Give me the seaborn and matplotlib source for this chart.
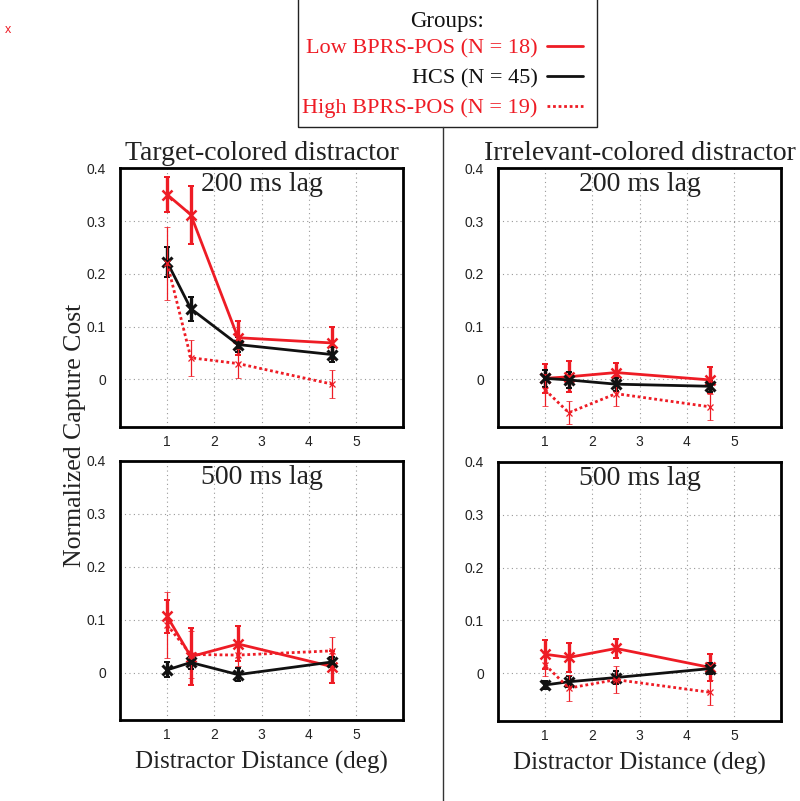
import numpy as np
import pandas as pd
import seaborn as sns
import matplotlib.pyplot as plt
from matplotlib.lines import Line2D
from matplotlib.patches import Rectangle

sns.set_style("white")
plt.rcParams['font.family'] = ['Liberation Sans', 'DejaVu Sans']

# distractor distances (deg)
dist = [1, 1.5, 2.5, 4.5]
groups = ['Low BPRS-POS (N = 18)', 'HCS (N = 45)', 'High BPRS-POS (N = 19)']

# target-colored, 200 ms lag
tc200_low = [0.350, 0.312, 0.079, 0.069]
tc200_low_err = [0.033, 0.055, 0.032, 0.030]
tc200_hcs = [0.222, 0.134, 0.066, 0.047]
tc200_hcs_err = [0.028, 0.023, 0.015, 0.014]
tc200_high = [0.220, 0.041, 0.030, -0.009]
tc200_high_err = [0.069, 0.034, 0.028, 0.027]

# irrelevant-colored, 200 ms lag
ic200_low = [0.002, 0.005, 0.013, -0.001]
ic200_low_err = [0.028, 0.029, 0.019, 0.024]
ic200_hcs = [0.002, -0.001, -0.009, -0.013]
ic200_hcs_err = [0.016, 0.015, 0.012, 0.010]
ic200_high = [-0.020, -0.063, -0.027, -0.052]
ic200_high_err = [0.031, 0.022, 0.023, 0.025]

# target-colored, 500 ms lag
tc500_low = [0.106, 0.030, 0.054, 0.011]
tc500_low_err = [0.031, 0.054, 0.033, 0.030]
tc500_hcs = [0.005, 0.019, -0.004, 0.020]
tc500_hcs_err = [0.014, 0.012, 0.012, 0.010]
tc500_high = [0.090, 0.034, 0.033, 0.041]
tc500_high_err = [0.063, 0.045, 0.020, 0.027]

# irrelevant-colored, 500 ms lag
ic500_low = [0.036, 0.030, 0.047, 0.011]
ic500_low_err = [0.027, 0.027, 0.018, 0.025]
ic500_hcs = [-0.022, -0.016, -0.008, 0.009]
ic500_hcs_err = [0.008, 0.010, 0.012, 0.010]
ic500_high = [0.016, -0.028, -0.012, -0.036]
ic500_high_err = [0.022, 0.025, 0.025, 0.024]

panels = [
    ('Target-colored distractor', '200 ms lag',
     [tc200_low, tc200_hcs, tc200_high], [tc200_low_err, tc200_hcs_err, tc200_high_err]),
    ('Irrelevant-colored distractor', '200 ms lag',
     [ic200_low, ic200_hcs, ic200_high], [ic200_low_err, ic200_hcs_err, ic200_high_err]),
    (None, '500 ms lag',
     [tc500_low, tc500_hcs, tc500_high], [tc500_low_err, tc500_hcs_err, tc500_high_err]),
    (None, '500 ms lag',
     [ic500_low, ic500_hcs, ic500_high], [ic500_low_err, ic500_hcs_err, ic500_high_err]),
]

red = '#ee1c25'
colors = {groups[0]: red, groups[1]: '#111111', groups[2]: red}
dashes = {groups[0]: '', groups[1]: '', groups[2]: (1, 1)}
err_lw = [2.4, 2.4, 0.9]
mk_size = [6.5, 6.5, 5]
mk_mew = [1.8, 2.2, 0.9]

fig = plt.figure(figsize=(8, 8.01), dpi=100)
rects = [[0.15, 0.467, 0.354, 0.323], [0.6225, 0.467, 0.354, 0.323],
         [0.15, 0.101, 0.354, 0.3235], [0.6225, 0.100, 0.354, 0.3235]]

serif = 'Liberation Serif'
for rect, (title, lag, vals, errs) in zip(rects, panels):
    ax = fig.add_axes(rect)
    df = pd.DataFrame({
        'dist': np.tile(dist, 3),
        'cost': np.concatenate(vals),
        'group': np.repeat(groups, len(dist)),
    })
    # error bars first so lines sit on top
    for g, v, e, lw in zip(groups, vals, errs, err_lw):
        ax.errorbar(dist, v, yerr=e, fmt='none', ecolor=colors[g],
                    elinewidth=lw, capsize=2.2, capthick=lw * 0.6, zorder=2)
    sns.lineplot(data=df, x='dist', y='cost', hue='group', style='group',
                 hue_order=groups, style_order=groups,
                 palette=colors, dashes=dashes, markers={g: 'x' for g in groups},
                 linewidth=2.0, legend=False, ax=ax, zorder=3)
    xlines = [ln for ln in ax.lines if ln.get_marker() == 'x']
    for ln, ms, mew in zip(xlines, mk_size, mk_mew):
        ln.set_markeredgecolor(ln.get_color())
        ln.set_markersize(ms)
        ln.set_markeredgewidth(mew)
    ax.set_xlim(0, 6)
    ax.set_ylim(-0.09, 0.4)
    ax.set_xticks([1, 2, 3, 4, 5])
    ax.set_yticks([0, 0.1, 0.2, 0.3, 0.4])
    ax.set_yticklabels(['0', '0.1', '0.2', '0.3', '0.4'])
    ax.grid(True, linestyle=(0, (1, 3)), color='#999999', linewidth=0.8)
    ax.set_axisbelow(True)
    for s in ax.spines.values():
        s.set_linewidth(2.0)
        s.set_color('black')
    ax.tick_params(labelsize=10, length=0, colors='#222222')
    ax.tick_params(axis='x', pad=6)
    ax.tick_params(axis='y', pad=10)
    ax.set_xlabel('')
    ax.set_ylabel('')
    if title:
        ax.set_title(title, family=serif, fontsize=20, pad=6, color='#222222')
    else:
        ax.set_xlabel('Distractor Distance (deg)', family=serif, fontsize=18,
                      color='#222222', labelpad=6)
    ax.text(0.5, 0.985, lag, transform=ax.transAxes, ha='center', va='top',
            family=serif, fontsize=20, color='#222222')

fig.text(0.094, 0.456, 'Normalized Capture Cost', rotation=90, ha='center',
         va='center', family=serif, fontsize=18.5, color='#222222')

# legend box drawn by hand, "Groups:" centred, entries right-aligned
fig.add_artist(Rectangle((298 / 800, 1 - 127 / 801), 299 / 800, 127 / 801 + 0.01,
                         transform=fig.transFigure, fill=False,
                         edgecolor='#222222', linewidth=1.0))
fig.text(447.5 / 800, 1 - 21 / 801, 'Groups:', ha='center', va='center',
         family=serif, fontsize=16.5, color='#111111')
handles = [Line2D([], [], color=colors[g], linewidth=2.0,
                  linestyle='-' if g != groups[2] else (0, (1, 1)))
           for g in groups]
leg = fig.legend(handles, groups, loc='upper right',
                 bbox_to_anchor=(583 / 800, 1 - 38 / 801),
                 markerfirst=False, frameon=False,
                 prop={'family': serif, 'size': 16}, handlelength=1.6,
                 borderpad=0, labelspacing=0.42, handletextpad=0.45,
                 borderaxespad=0)
for t, g in zip(leg.get_texts(), groups):
    t.set_color(colors[g])
leg._legend_box.align = 'right'

fig.add_artist(Line2D([0.554, 0.554], [0.0, 0.841], transform=fig.transFigure,
                      color='#333333', linewidth=1.0))

fig.text(0.006, 0.962, 'x', color=red, fontsize=9, ha='left', va='center')

fig.savefig('out.png', dpi=100)
